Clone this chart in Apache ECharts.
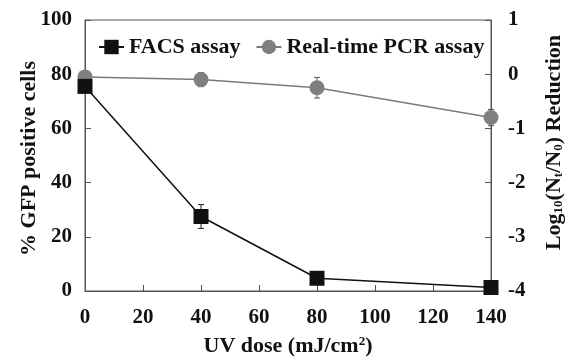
<!DOCTYPE html>
<html>
<head>
<meta charset="utf-8">
<script src="https://cdn.jsdelivr.net/npm/echarts@6/dist/echarts.min.js"></script>
<style>
  html, body { margin: 0; padding: 0; background: #fff; }
  #chart { width: 567px; height: 358px; }
</style>
</head>
<body>
<div id="chart"></div>
<script>
var doses = [0, 40, 80, 140];
var facsMean = [75.5, 27.5, 4.7, 1.3];
var facsErr = [1.5, 4.4, 1.0, 0.8];
var pcrMean = [-0.05, -0.1, -0.25, -0.8];
var pcrErr = [0.05, 0.13, 0.19, 0.15];

var font = '"Liberation Serif", "Times New Roman", serif';
var axisColor = '#555';

function pairs(xs, ys) {
  return xs.map(function (x, i) { return [x, ys[i]]; });
}

function errData(xs, ys, es) {
  return xs.map(function (x, i) { return [x, ys[i] - es[i], ys[i] + es[i]]; });
}

function errRender(color) {
  return function (params, api) {
    var lo = api.coord([api.value(0), api.value(1)]);
    var hi = api.coord([api.value(0), api.value(2)]);
    var w = 3;
    var st = { stroke: color, lineWidth: 1 };
    return {
      type: 'group',
      children: [
        { type: 'line', shape: { x1: lo[0], y1: lo[1], x2: hi[0], y2: hi[1] }, style: st },
        { type: 'line', shape: { x1: lo[0] - w, y1: lo[1], x2: lo[0] + w, y2: lo[1] }, style: st },
        { type: 'line', shape: { x1: hi[0] - w, y1: hi[1], x2: hi[0] + w, y2: hi[1] }, style: st }
      ]
    };
  };
}

var chart = echarts.init(document.getElementById('chart'), null, { renderer: 'canvas' });

var option = {
  animation: false,
  backgroundColor: '#fff',
  textStyle: { fontFamily: font },
  grid: {
    left: 85, right: 76, top: 20, bottom: 67,
    outerBoundsMode: 'none',
    show: true, borderColor: axisColor, borderWidth: 1
  },
  legend: {
    top: 31, left: 93,
    itemWidth: 25, itemHeight: 18, itemGap: 15,
    textStyle: { fontFamily: font, fontWeight: 'bold', fontSize: 22, color: '#111' },
    data: ['FACS assay', 'Real-time PCR assay']
  },
  xAxis: {
    type: 'value', min: 0, max: 140, interval: 20,
    name: 'UV dose (mJ/cm{sup|2})',
    nameLocation: 'middle', nameGap: 44,
    nameTextStyle: {
      fontFamily: font, fontWeight: 'bold', fontSize: 22, color: '#111',
      rich: { sup: { fontFamily: font, fontWeight: 'bold', fontSize: 13, color: '#111', verticalAlign: 'top', padding: [0, 0, 9, 0] } }
    },
    axisLine: { lineStyle: { color: axisColor } },
    axisTick: { inside: true, length: 6, lineStyle: { color: axisColor } },
    axisLabel: { fontFamily: font, fontWeight: 'bold', fontSize: 21, color: '#111', margin: 16 },
    splitLine: { show: false }
  },
  yAxis: [{
    type: 'value', min: 0, max: 100, interval: 20,
    name: '% GFP positive cells',
    nameLocation: 'middle', nameGap: 45, nameMoveOverlap: false,
    nameTextStyle: { fontFamily: font, fontWeight: 'bold', fontSize: 22, color: '#111', padding: [0, 6, 0, 0] },
    axisLine: { show: true, lineStyle: { color: axisColor } },
    axisTick: { show: true, inside: true, length: 6, lineStyle: { color: axisColor } },
    axisLabel: { fontFamily: font, fontWeight: 'bold', fontSize: 21, color: '#111', margin: 13 },
    splitLine: { show: false }
  }, {
    type: 'value', min: -4, max: 1, interval: 1,
    position: 'right',
    name: 'Log{sub|10}(N{sub|t}/N{sub|0}) Reduction',
    nameLocation: 'middle', nameGap: 52, nameRotate: 90, nameMoveOverlap: false,
    nameTextStyle: {
      fontFamily: font, fontWeight: 'bold', fontSize: 22, color: '#111',
      padding: [0, 0, 0, 26],
      rich: { sub: { fontFamily: font, fontWeight: 'bold', fontSize: 13, color: '#111', verticalAlign: 'bottom', padding: [9, 0, 0, 0] } }
    },
    axisLine: { show: true, lineStyle: { color: axisColor } },
    axisTick: { show: true, inside: true, length: 6, lineStyle: { color: axisColor } },
    axisLabel: { fontFamily: font, fontWeight: 'bold', fontSize: 21, color: '#111', margin: 17 },
    splitLine: { show: false }
  }],
  series: [{
    type: 'custom', name: 'facsErr', yAxisIndex: 0, silent: true,
    renderItem: errRender('#222'),
    data: errData(doses, facsMean, facsErr), z: 1
  }, {
    type: 'custom', name: 'pcrErr', yAxisIndex: 1, silent: true,
    renderItem: errRender('#555'),
    data: errData(doses, pcrMean, pcrErr), z: 1
  }, {
    name: 'Real-time PCR assay', type: 'line', yAxisIndex: 1,
    data: pairs(doses, pcrMean),
    symbol: 'circle', symbolSize: 15,
    lineStyle: { color: '#7a7a7a', width: 1.5 },
    itemStyle: { color: '#7f7f7f' },
    z: 3
  }, {
    name: 'FACS assay', type: 'line', yAxisIndex: 0,
    data: pairs(doses, facsMean),
    symbol: 'rect', symbolSize: 15,
    lineStyle: { color: '#111', width: 1.5 },
    itemStyle: { color: '#111' },
    z: 4
  }]
};

chart.setOption(option);
</script>
</body>
</html>
